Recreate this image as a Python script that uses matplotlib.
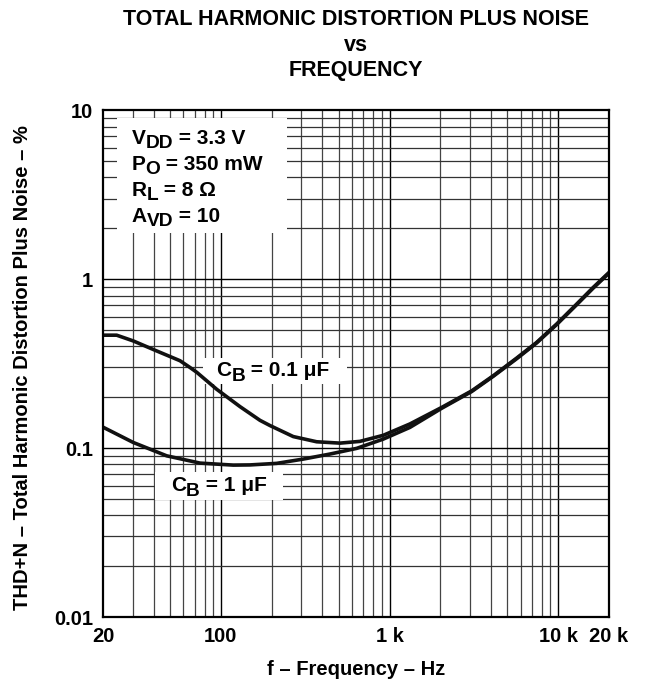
import matplotlib
matplotlib.use("Agg")
import matplotlib.pyplot as plt
from matplotlib.patches import Rectangle
from matplotlib.transforms import IdentityTransform
from matplotlib.ticker import FixedLocator, NullFormatter

plt.rcParams['font.family'] = ['Liberation Sans', 'DejaVu Sans']
plt.rcParams['font.weight'] = 'bold'

# C_B = 0.1 uF
freq_01 = [20, 24.1, 30.2, 41.6, 57.2, 65.6, 71.9, 94.4, 129.8, 170.5, 195.4,
           268.6, 369.7, 508, 667.6, 917, 1321, 2036, 3066, 4119, 5669, 7445,
           9781, 12850, 16120, 20000]
thd_01 = [0.466, 0.466, 0.431, 0.376, 0.329, 0.300, 0.281, 0.223, 0.176,
          0.146, 0.136, 0.117, 0.109, 0.107, 0.1096, 0.119, 0.139, 0.174,
          0.218, 0.268, 0.341, 0.422, 0.542, 0.711, 0.893, 1.095]

# C_B = 1 uF
freq_1 = [20, 30.2, 47.7, 75.2, 118.4, 148.7, 214, 308, 443, 638, 917, 1321,
          2036, 3066, 4119, 5669, 7445, 9781, 12850, 16120, 20000]
thd_1 = [0.133, 0.108, 0.090, 0.0815, 0.0793, 0.0795, 0.0812, 0.0861, 0.0922,
         0.0996, 0.113, 0.1326, 0.172, 0.216, 0.266, 0.338, 0.419, 0.538,
         0.705, 0.885, 1.085]

x_ticks = [20, 100, 1000, 10000, 20000]
x_ticklabels = ['20', '100', '1 k', '10 k', '20 k']
y_ticks = [0.01, 0.1, 1, 10]
y_ticklabels = ['0.01', '0.1', '1', '10']

conditions = [[('V', 0), ('DD', 1), (' = 3.3 V', 0)],
              [('P', 0), ('O', 1), (' = 350 mW', 0)],
              [('R', 0), ('L', 1), (' = 8 Ω', 0)],
              [('A', 0), ('VD', 1), (' = 10', 0)]]
label_01 = [('C', 0), ('B', 1), (' = 0.1 μF', 0)]
label_1 = [('C', 0), ('B', 1), (' = 1 μF', 0)]

fig = plt.figure(figsize=(6.52, 6.83), dpi=100)
ax = fig.add_axes([0.158, 0.0966, 0.776, 0.742])
ax.set_xscale('log')
ax.set_yscale('log')
ax.set_xlim(20, 20000)
ax.set_ylim(0.01, 10)

# grid
minor_x = [m * 10 ** e for e in range(1, 5) for m in range(2, 10)
           if 20 < m * 10 ** e < 20000]
minor_y = [m * 10 ** e for e in range(-2, 1) for m in range(2, 10)]
for v in minor_x:
    ax.axvline(v, color='#444444', lw=0.9, zorder=1)
for v in [100, 1000, 10000]:
    ax.axvline(v, color='black', lw=1.0, zorder=1)
for v in minor_y:
    ax.axhline(v, color='#333333', lw=0.9, zorder=1)
for v in [0.1, 1]:
    ax.axhline(v, color='black', lw=1.0, zorder=1)

ax.plot(freq_01, thd_01, color='#111111', lw=2.6, zorder=4)
ax.plot(freq_1, thd_1, color='#111111', lw=2.6, zorder=4)

ax.xaxis.set_major_locator(FixedLocator(x_ticks))
ax.set_xticklabels(x_ticklabels)
ax.xaxis.set_minor_formatter(NullFormatter())
ax.yaxis.set_major_locator(FixedLocator(y_ticks))
ax.set_yticklabels(y_ticklabels)
ax.yaxis.set_minor_formatter(NullFormatter())
ax.tick_params(which='both', length=0, labelsize=14.5)
ax.tick_params(axis='x', pad=7)
ax.tick_params(axis='y', pad=7)
for lab in ax.get_xticklabels() + ax.get_yticklabels():
    lab.set_fontweight('bold')

for s in ax.spines.values():
    s.set_linewidth(1.6)
    s.set_zorder(6)

# white boxes that hide the grid under the notes
ax.add_patch(Rectangle((0.028, 0.757), 0.336, 0.227, transform=ax.transAxes,
                       facecolor='white', edgecolor='none', zorder=3))
ax.add_patch(Rectangle((0.198, 0.46), 0.284, 0.051, transform=ax.transAxes,
                       facecolor='white', edgecolor='none', zorder=3))
ax.add_patch(Rectangle((0.103, 0.231), 0.253, 0.055, transform=ax.transAxes,
                       facecolor='white', edgecolor='none', zorder=3))

renderer = fig.canvas.get_renderer()


def sub_text(x, y, parts, size, drop, center=False):
    # text with full-height lowered subscripts, placed in axes coords
    px, py = ax.transAxes.transform((x, y))
    items = []
    cur = px
    for s, is_sub in parts:
        fs = size * 0.92 if is_sub else size
        yy = py - drop if is_sub else py
        t = fig.text(cur, yy, s, transform=IdentityTransform(), fontsize=fs,
                     fontweight='bold', va='center', ha='left', zorder=7)
        cur += t.get_window_extent(renderer).width
        items.append((t, yy))
    if center:
        shift = (cur - px) / 2
        for t, yy in items:
            x0, _ = t.get_position()
            t.set_position((x0 - shift, yy))


for i, parts in enumerate(conditions):
    sub_text(0.057, 0.945 - i * 0.0515, parts, 15, 5)

sub_text(0.336, 0.487, label_01, 15, 6, center=True)
sub_text(0.229, 0.260, label_1, 15, 6, center=True)

fig.text(0.546, 0.971, 'TOTAL HARMONIC DISTORTION PLUS NOISE', ha='center',
         va='center', fontsize=15.5, fontweight='bold')
fig.text(0.546, 0.934, 'vs', ha='center', va='center', fontsize=15.5,
         fontweight='bold')
fig.text(0.546, 0.897, 'FREQUENCY', ha='center', va='center', fontsize=15.5,
         fontweight='bold')

fig.text(0.546, 0.020, 'f – Frequency – Hz', ha='center', va='center',
         fontsize=14.5, fontweight='bold')
fig.text(0.034, 0.462, 'THD+N – Total Harmonic Distortion Plus Noise – %',
         ha='center', va='center', rotation=90, fontsize=14.5,
         fontweight='bold')

fig.savefig('out.png', dpi=100)
